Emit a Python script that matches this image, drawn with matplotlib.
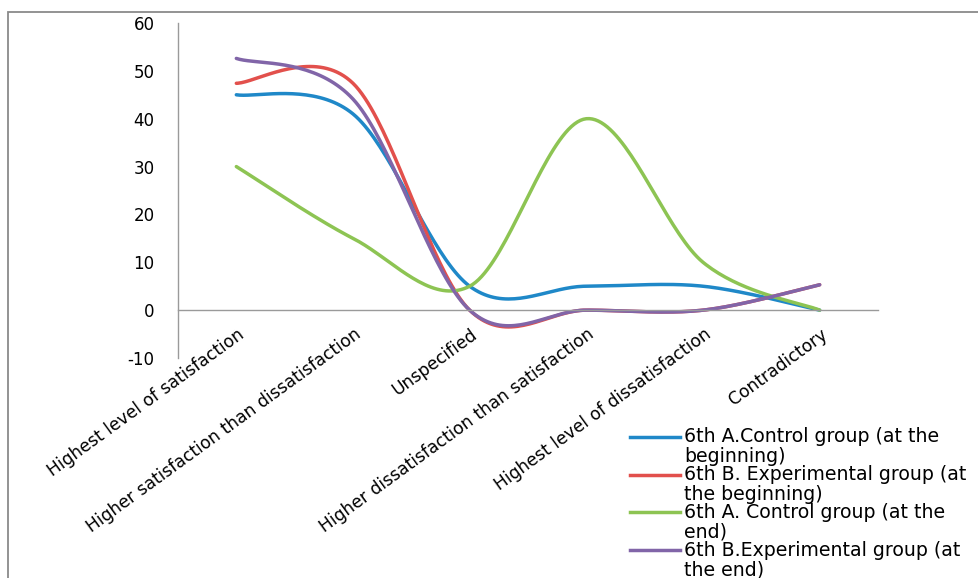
import numpy as np
import matplotlib
matplotlib.use("Agg")
import matplotlib.pyplot as plt
from matplotlib.lines import Line2D
from matplotlib.patches import Rectangle
from matplotlib.transforms import ScaledTranslation

plt.rcParams['font.family'] = ['DejaVu Sans']
plt.rcParams['axes.unicode_minus'] = False

categories = [
    "Highest level of satisfaction",
    "Higher satisfaction than dissatisfaction",
    "Unspecified",
    "Higher dissatisfaction than satisfaction",
    "Highest level of dissatisfaction",
    "Contradictory",
]

control_begin = [45, 41, 5, 5, 5, 0]
experimental_begin = [47.4, 47.4, 0, 0, 0, 5.3]
control_end = [30, 15, 5, 40, 10, 0]
experimental_end = [52.6, 44.1, 0, 0, 0, 5.3]

series_names = [
    ("6th A.Control group (at the", "beginning)"),
    ("6th B. Experimental group (at", "the beginning)"),
    ("6th A. Control group (at the", "end)"),
    ("6th B.Experimental group (at", "the end)"),
]
series_values = [control_begin, experimental_begin, control_end, experimental_end]
colors = ["#1F88C8", "#E2504C", "#8DC453", "#8165A8"]

W, H = 979, 578


def smooth(y, n=40):
    # Excel style smoothed line: Bezier segments with Catmull-Rom control points
    y = np.asarray(y, dtype=float)
    x = np.arange(len(y), dtype=float)
    px = np.concatenate([[x[0]], x, [x[-1]]])
    py = np.concatenate([[y[0]], y, [y[-1]]])
    xs, ys = [], []
    t = np.linspace(0, 1, n)
    for i in range(len(y) - 1):
        p0 = np.array([x[i], y[i]])
        p3 = np.array([x[i + 1], y[i + 1]])
        p1 = p0 + (np.array([px[i + 2], py[i + 2]]) - np.array([px[i], py[i]])) / 6
        p2 = p3 - (np.array([px[i + 3], py[i + 3]]) - np.array([px[i + 1], py[i + 1]])) / 6
        b = ((1 - t) ** 3)[:, None] * p0 + (3 * (1 - t) ** 2 * t)[:, None] * p1 \
            + (3 * (1 - t) * t ** 2)[:, None] * p2 + (t ** 3)[:, None] * p3
        xs.append(b[:, 0])
        ys.append(b[:, 1])
    return np.concatenate(xs), np.concatenate(ys)


fig = plt.figure(figsize=(W / 100, H / 100), dpi=100)
ax = fig.add_axes([178 / W, 1 - 358 / H, 700 / W, 335 / H])

for vals, col in zip(series_values, colors):
    sx, sy = smooth(vals)
    ax.plot(sx, sy, color=col, lw=2.5, solid_capstyle='round')

# spine position first, it resets the ticks
ax.spines['top'].set_visible(False)
ax.spines['right'].set_visible(False)
ax.spines['bottom'].set_position(('data', 0))
for s in ('left', 'bottom'):
    ax.spines[s].set_color('#9A9A9A')
    ax.spines[s].set_linewidth(1.0)

ax.set_xlim(-0.5, len(categories) - 0.5)
ax.set_ylim(-10, 60)
ax.set_yticks(range(-10, 61, 10))
ax.set_xticks(range(len(categories)))
ax.tick_params(axis='x', length=0, pad=16)
ax.tick_params(axis='y', length=0, pad=17, labelsize=12)
ax.set_xticklabels(categories, rotation=36, ha='right', va='center',
                   rotation_mode='anchor', fontsize=12.3)
for lab in ax.get_xticklabels():
    lab.set_transform(lab.get_transform() + ScaledTranslation(0.06, 0, fig.dpi_scale_trans))

# outer chart border
fig.add_artist(Rectangle((8 / W, -0.1), 1.2, 1 - 12 / H + 0.1, transform=fig.transFigure,
                         fill=False, edgecolor='#8A8A8A', lw=1.3))

# legend, handle beside the first line of each entry
for i, ((l1, l2), col) in enumerate(zip(series_names, colors)):
    yc = 437 + i * 37.7
    fig.add_artist(Line2D([630 / W, 680 / W], [1 - yc / H, 1 - yc / H],
                          transform=fig.transFigure, color=col, lw=2.5))
    fig.text(684 / W, 1 - yc / H, l1, va='center', ha='left', fontsize=13.6)
    fig.text(684 / W, 1 - (yc + 20) / H, l2, va='center', ha='left', fontsize=13.6)

fig.savefig("out.png", dpi=100)
